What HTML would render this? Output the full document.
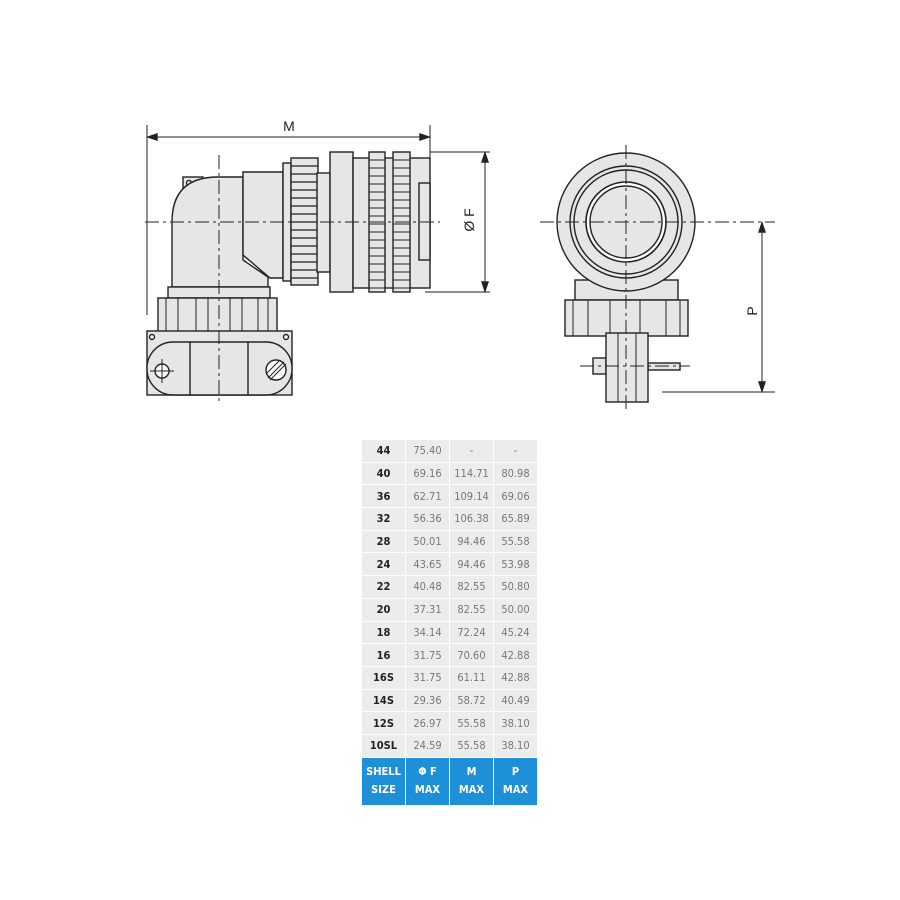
<!DOCTYPE html>
<html><head><style>
body{margin:0;background:#fff;width:900px;height:900px;overflow:hidden;position:relative;font-family:"Liberation Sans",sans-serif}
table{position:absolute;left:361px;top:439px;border-collapse:collapse;table-layout:fixed;width:176px}
td{width:43px;height:21.7px;padding:0;text-align:center;font-size:11px;color:#777;background:#ececec;border:1.5px solid #fff;font-family:"DejaVu Sans Condensed","Liberation Sans Narrow",sans-serif}
td.s{color:#222;font-weight:bold}
tr.h td{background:#1e90d8;color:#fff;font-weight:bold;height:47px;line-height:18px}
</style></head><body>
<svg width="900" height="900" style="position:absolute;left:0;top:0" stroke="#222" stroke-width="1.4" fill="#e6e6e6">
<line x1="147" y1="125" x2="147" y2="315" stroke-width="1"/>
<line x1="430" y1="125" x2="430" y2="160" stroke-width="1"/>
<line x1="150" y1="137" x2="427" y2="137" stroke-width="1"/>
<path d="M148 137l9-3v6z M429 137l-9-3v6z" fill="#222"/>
<text x="289" y="131" font-size="14" fill="#222" stroke="none" text-anchor="middle">M</text>
<rect x="183" y="177" width="20" height="22"/>
<circle cx="189" cy="183" r="2.5" fill="#fff"/>
<path d="M172 287 L172 222 Q172 177 218 177 L243 177 L243 260 L268 277 L268 287 Z"/>
<path d="M243 172 L283 172 L283 278 L270 278 L243 255 Z"/>
<rect x="283" y="163" width="8" height="118"/>
<rect x="291" y="158" width="27" height="127"/>
<g stroke-width="1.2"><path d="M291 166h27M291 174h27M291 182h27M291 190h27M291 198h27M291 206h27M291 214h27M291 222h27M291 230h27M291 238h27M291 246h27M291 254h27M291 262h27M291 270h27M291 278h27"/></g>
<rect x="317" y="173" width="13" height="99"/>
<rect x="330" y="152" width="23" height="140"/>
<rect x="353" y="158" width="77" height="130"/>
<rect x="369" y="152" width="16" height="140"/>
<rect x="393" y="152" width="17" height="140"/>
<g stroke-width="1.1"><path d="M369 160h16M369 168h16M369 176h16M369 184h16M369 192h16M369 200h16M369 208h16M369 216h16M369 224h16M369 232h16M369 240h16M369 248h16M369 256h16M369 264h16M369 272h16M369 280h16M369 288h16 M393 160h17M393 168h17M393 176h17M393 184h17M393 192h17M393 200h17M393 208h17M393 216h17M393 224h17M393 232h17M393 240h17M393 248h17M393 256h17M393 264h17M393 272h17M393 280h17M393 288h17"/></g>
<rect x="419" y="183" width="11" height="77"/>
<rect x="168" y="287" width="102" height="11"/>
<rect x="158" y="298" width="119" height="37"/>
<path d="M166 298v37M178 298v37M196 298v37M208 298v37M230 298v37M242 298v37M258 298v37M268 298v37" stroke-width="1"/>
<rect x="147" y="331" width="145" height="64"/>
<rect x="147" y="342" width="145" height="53" rx="26"/>
<path d="M190 342v53M248 342v53"/>
<circle cx="152" cy="337" r="2.5" fill="#fff"/><circle cx="286" cy="337" r="2.5" fill="#fff"/>
<circle cx="162" cy="371" r="7" fill="#fff"/><path d="M150 371h24M162 359v24" stroke-width="1"/>
<circle cx="276" cy="370" r="10" fill="#fff"/><path d="M268 378l16-16M270 380l16-16M266 374l14-14" stroke-width="1"/>
<g stroke-dasharray="14 4 3 4" stroke-width="1"><line x1="145" y1="222" x2="440" y2="222"/><line x1="219" y1="155" x2="219" y2="405"/></g>
<line x1="430" y1="152" x2="490" y2="152" stroke-width="1"/>
<line x1="425" y1="292" x2="490" y2="292" stroke-width="1"/>
<line x1="485" y1="155" x2="485" y2="289" stroke-width="1"/>
<path d="M485 153l-3 9h6z M485 291l-3-9h6z" fill="#222"/>
<text x="474" y="220" font-size="14" fill="#222" stroke="none" text-anchor="middle" transform="rotate(-90 474 220)">Ø F</text>
<rect x="575" y="280" width="103" height="20"/>
<circle cx="626" cy="222" r="69"/>
<circle cx="626" cy="222" r="56" fill="none"/>
<circle cx="626" cy="222" r="52" fill="none"/>
<circle cx="626" cy="222" r="40" fill="#fff" stroke-width="1.6"/>
<circle cx="626" cy="222" r="36"/>
<rect x="565" y="300" width="123" height="36"/>
<path d="M573 300v36M588 300v36M610 300v36M640 300v36M666 300v36M680 300v36" stroke-width="1"/>
<rect x="593" y="358" width="13" height="16"/>
<rect x="648" y="363" width="32" height="7"/>
<rect x="606" y="333" width="42" height="69"/>
<path d="M618 333v69M636 333v69" stroke-width="1"/>
<g stroke-dasharray="14 4 3 4" stroke-width="1"><line x1="540" y1="222" x2="775" y2="222"/><line x1="626" y1="145" x2="626" y2="410"/><line x1="580" y1="366" x2="690" y2="366"/></g>
<line x1="662" y1="392" x2="775" y2="392" stroke-width="1"/>
<line x1="762" y1="225" x2="762" y2="389" stroke-width="1"/>
<path d="M762 223l-3 9h6z M762 391l-3-9h6z" fill="#222"/>
<text x="757" y="311" font-size="14" fill="#222" stroke="none" text-anchor="middle" transform="rotate(-90 757 311)">P</text>
</svg>
<table>
<tr><td class="s">44</td><td>75.40</td><td>-</td><td>-</td></tr>
<tr><td class="s">40</td><td>69.16</td><td>114.71</td><td>80.98</td></tr>
<tr><td class="s">36</td><td>62.71</td><td>109.14</td><td>69.06</td></tr>
<tr><td class="s">32</td><td>56.36</td><td>106.38</td><td>65.89</td></tr>
<tr><td class="s">28</td><td>50.01</td><td>94.46</td><td>55.58</td></tr>
<tr><td class="s">24</td><td>43.65</td><td>94.46</td><td>53.98</td></tr>
<tr><td class="s">22</td><td>40.48</td><td>82.55</td><td>50.80</td></tr>
<tr><td class="s">20</td><td>37.31</td><td>82.55</td><td>50.00</td></tr>
<tr><td class="s">18</td><td>34.14</td><td>72.24</td><td>45.24</td></tr>
<tr><td class="s">16</td><td>31.75</td><td>70.60</td><td>42.88</td></tr>
<tr><td class="s">16S</td><td>31.75</td><td>61.11</td><td>42.88</td></tr>
<tr><td class="s">14S</td><td>29.36</td><td>58.72</td><td>40.49</td></tr>
<tr><td class="s">12S</td><td>26.97</td><td>55.58</td><td>38.10</td></tr>
<tr><td class="s">10SL</td><td>24.59</td><td>55.58</td><td>38.10</td></tr>
<tr class="h"><td>SHELL<br>SIZE</td><td>Φ F<br>MAX</td><td>M<br>MAX</td><td>P<br>MAX</td></tr>
</table>
</body></html>
